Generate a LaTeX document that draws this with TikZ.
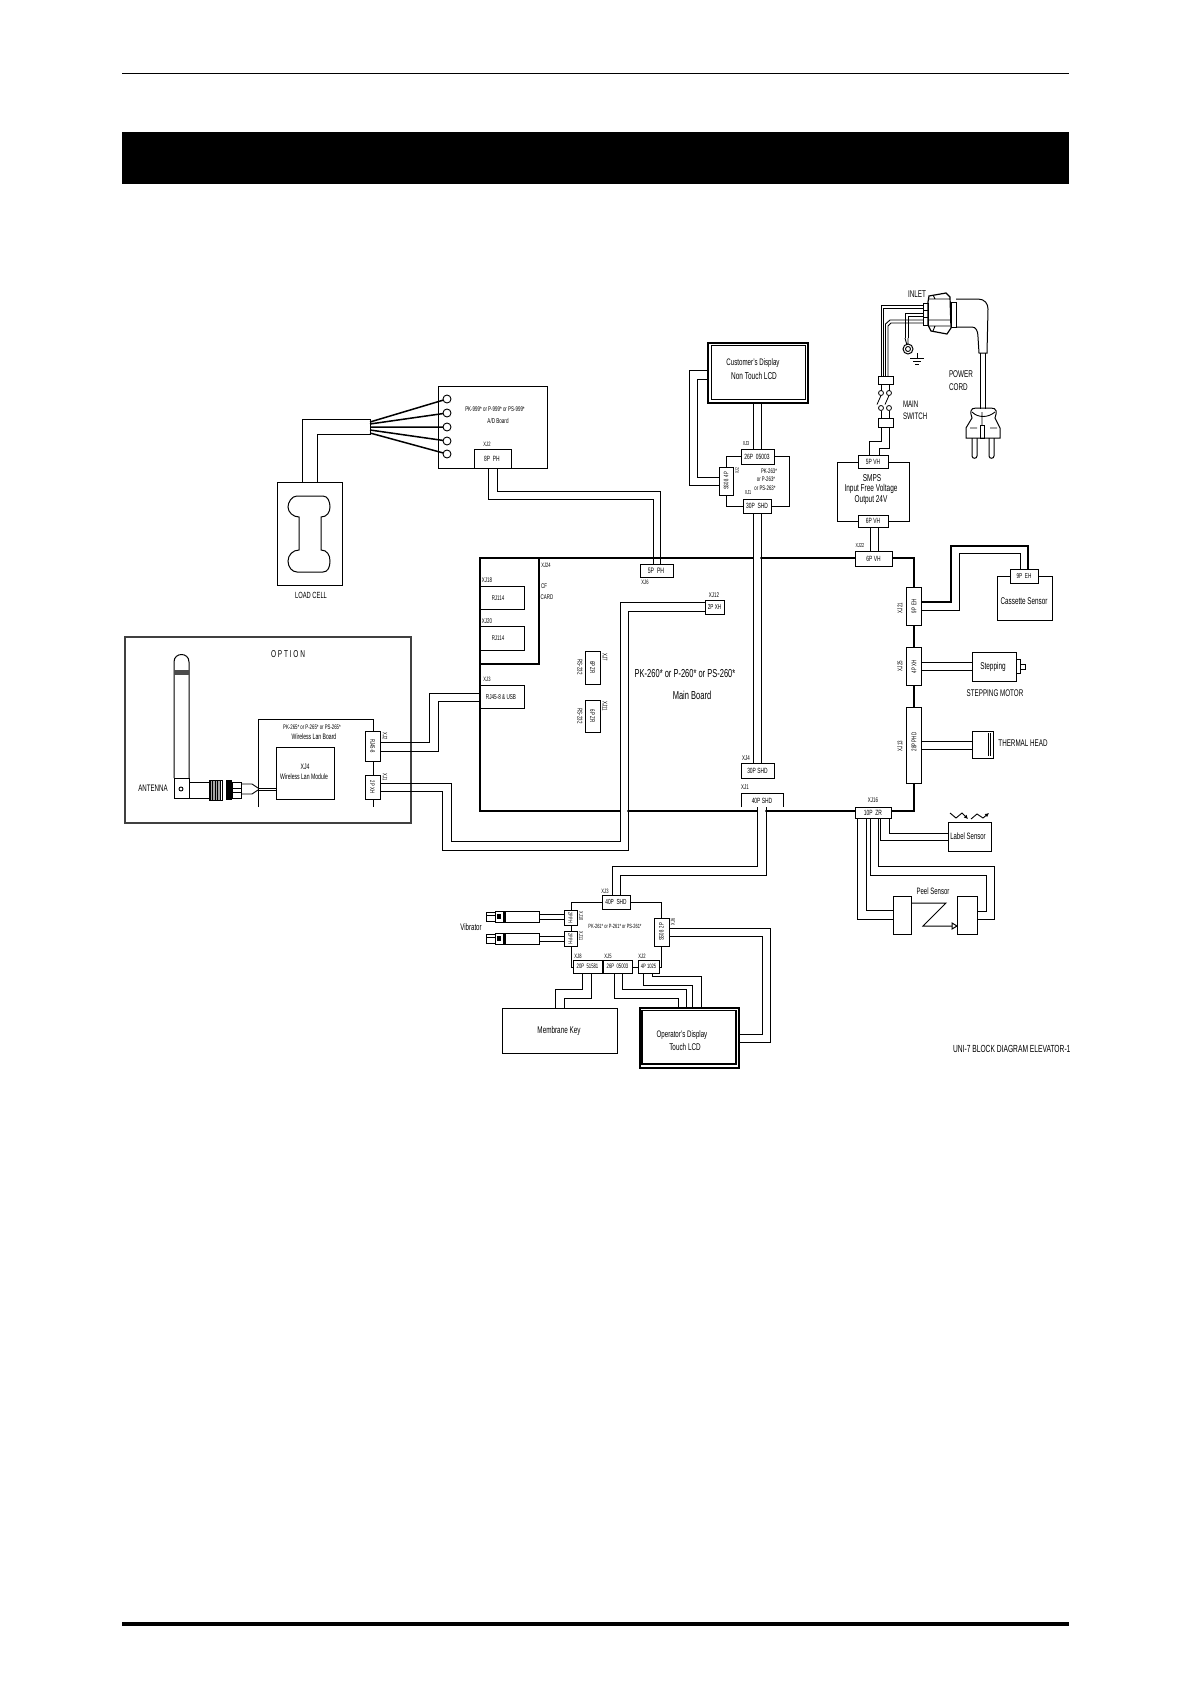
\documentclass[tikz,border=0pt]{standalone}
\usepackage{fontspec}
\usetikzlibrary{arrows.meta}
\setmainfont[FakeStretch=0.65]{Liberation Sans}
\newcounter{lc}
\newcommand\lb[5][]{\stepcounter{lc}\pgfmathsetmacro\fs{#4*1.05}\node[txt,#1,font=\fontsize{\fs}{\fs}\selectfont] (t\thelc) at (#2,#3) {#5};}
\newcommand\bx[6][]{\pgfmathsetmacro\bw{#5-#3}\pgfmathsetmacro\bh{#6-#4}\node[bxs,#1,minimum width=\bw pt,minimum height=\bh pt] (#2) at ({(#3+#5)/2},{(#4+#6)/2}) {};}
\tikzset{
  txt/.style={inner sep=0pt,outer sep=0pt,text=black},
  bxs/.style={draw=black,fill=white,line width=1pt,inner sep=0pt,outer sep=0pt,rectangle},
  wire/.style={draw=black,line width=1pt,line join=miter},
}
\begin{document}
\begin{tikzpicture}[x=1pt,y=-1pt]
\useasboundingbox (0,0) rectangle (1190,1684);
% page furniture
\draw[line width=1pt] (122,73.5) -- (1069,73.5);
\fill[black] (122,132) rectangle (1069,184);
\draw[line width=4pt] (122,1624) -- (1069,1624);

% LOAD CELL
\bx{cell}{277}{482}{342}{585}
\draw[wire] (297,496) -- (323,496) .. controls (328,496) and (330,502) .. (330,507) .. controls (330,512) and (327,517) .. (321,517) -- (321,550) .. controls (327,550) and (330,555) .. (330,561) .. controls (330,567) and (328,572) .. (323,572) -- (297,572) .. controls (292,572) and (288,567) .. (288,561) .. controls (288,555) and (293,550) .. (299,550) -- (299,517) .. controls (293,517) and (288,512) .. (288,507) .. controls (288,502) and (292,496) .. (297,496) -- cycle;
\lb{311}{595}{8.5}{LOAD CELL}
\draw[wire] (302,0 |- cell.north) -- (302,419) -- (370,419) -- (370,434) -- (317,434) -- (317,0 |- cell.north);
% A/D board
\bx{ad}{438}{386}{547}{468}
\foreach \n/\yy in {1/399,2/413,3/427,4/441,5/454}{\node[circle,draw=black,fill=white,line width=.9pt,minimum size=8pt,inner sep=0pt,outer sep=0pt] (c\n) at (447,\yy) {};}
\draw[line width=1.5pt,black] (370,422) -- (c1) (370,424) -- (c2) (370,427) -- (c3) (370,430) -- (c4) (370,433) -- (c5);
\lb{495}{409}{6.5}{PK-999* or P-999* or PS-999*}
\lb{498}{421}{6.7}{A/D Board}
\lb{487}{444}{6}{XJ2}
\bx{adc}{474}{449}{511}{468}
\lb{492}{459}{7.2}{8P\ \ PH}

% MAIN BOARD
\bx[fill=none,line width=1.2pt]{board}{480}{558}{914}{811}
\fill[white] (753.6,555) rectangle (760.4,561) (620.6,808) rectangle (627.4,814) (757.6,808) rectangle (765.4,814);
\draw[wire,line width=1.2pt] (539,558) -- (539,664) -- (480,664);
\lb{546}{565}{6}{XJ24}
\lb{544}{586}{6.5}{CF}
\lb{547}{597}{6.5}{CARD}
\lb{487}{580}{6.5}{XJ18}
\bx{rja}{480}{586}{524}{609}
\lb{498}{598}{6.5}{RJ114}
\lb{487}{621}{6.5}{XJ20}
\bx{rjb}{480}{626}{524}{650}
\lb{498}{638}{6.5}{RJ114}
\lb{487}{679}{6}{XJ3}
\bx{rj}{480}{685}{524}{708}
\lb{501}{697}{6.8}{RJ45-8 \& USB}
\bx{rsa}{585}{651}{600}{684}
\lb[rotate=-90]{592.5}{667.5}{6.5}{6P ZR}
\lb[rotate=-90]{580}{667}{6.5}{RS-232}
\lb[rotate=-90]{605}{657}{6.5}{XJ7}
\bx{rsb}{585}{700}{600}{732}
\lb[rotate=-90]{592.5}{716}{6.5}{6P ZR}
\lb[rotate=-90]{580}{716}{6.5}{RS-232}
\lb[rotate=-90]{605}{706}{6.5}{XJ11}
\lb{685}{674}{11}{PK-260* or P-260* or PS-260*}
\lb{692}{695}{11}{Main Board}

\bx{xjsix}{640}{564}{673}{577}
\lb{656}{571}{7.5}{5P\ \ PH}
\lb{645}{582}{6}{XJ6}
\bx{xjtw}{705}{600}{724}{614}
\lb{714.5}{607}{6.8}{2P XH}
\lb{714}{595}{6.5}{XJ12}
\bx{xjfour}{741}{763}{774}{778}
\lb{757.5}{771}{7.2}{30P SHD}
\lb{746}{758}{6.5}{XJ4}
\draw[wire] (741,807) -- (741,793) -- (783,793) -- (783,807);
\lb{762}{801}{7.2}{40P SHD}
\lb{745}{787}{6.5}{XJ1}

% chain on the right
\bx{xjtt}{855}{551}{892}{566}
\lb{873.5}{559}{7.2}{6P VH}
\lb{860}{546}{5.5}{XJ22}
\bx{xjto}{906}{587}{921}{625}
\lb[rotate=90]{914}{606}{6.5}{9P\ \ EH}
\lb[rotate=90]{900}{608}{6.5}{XJ21}
\bx{xjtf}{906}{647}{921}{685}
\lb[rotate=90]{914}{667}{6.5}{4P XH}
\lb[rotate=90]{900}{666}{6.5}{XJ25}
\bx{xjth}{906}{707}{921}{783}
\lb[rotate=90]{914}{742}{6.5}{28P PHD}
\lb[rotate=90]{900}{746}{6.5}{XJ13}
\bx{xjsx}{855}{807}{891}{818}
\lb{873}{812.5}{7.2}{10P\ \ ZR}
\lb{873}{800}{6.5}{XJ16}

% Customer's display
\bx[line width=1.4pt]{cust}{708}{343}{808}{403}
\draw[line width=1pt,black] (711,345.5) rectangle (805,399);
\lb{753}{363}{9}{Customer's Display}
\lb{754}{376}{9.5}{Non Touch LCD}
\bx{dbrd}{726}{456}{789}{506}
\bx{dtop}{741}{449}{774}{464}
\lb{757}{456.5}{7.2}{26P\ \ 05003}
\lb{746}{444}{5.5}{XJ3}
\bx{dss}{719}{467}{733}{495}
\lb[rotate=90]{726}{481}{6.2}{SS08\ \ 4P}
\lb[rotate=90]{737}{471}{5}{XJ2}
\bx{dbot}{743}{499}{771}{513}
\lb{757}{506}{7.2}{30P\ \ SHD}
\lb{748}{493}{5.5}{XJ1}
\lb{769}{471}{6.3}{PK-263*}
\lb{766}{479.5}{6.3}{or P-263*}
\lb{765}{488}{6.3}{or PS-263*}

% SMPS
\bx{smps}{837}{462}{909}{521}
\bx{smu}{858}{455}{888}{468}
\lb{873}{461.5}{7.2}{5P VH}
\bx{sml}{858}{515}{888}{527}
\lb{873}{521}{7.2}{6P VH}
\lb{872}{478}{9.5}{SMPS}
\lb{871}{489}{9.5}{Input Free Voltage}
\lb{871}{500}{9.5}{Output 24V}

% switch and cord
\bx{swu}{878}{376}{893}{384}
\bx{swl}{878}{418}{893}{427}
\foreach \n/\xx in {a/881,b/889}{
 \node[circle,draw=black,fill=white,line width=.8pt,minimum size=5pt,inner sep=0pt,outer sep=0pt] (up\n) at (\xx,393) {};
 \node[circle,draw=black,fill=white,line width=.8pt,minimum size=5pt,inner sep=0pt,outer sep=0pt] (lo\n) at (\xx,408) {};
 \draw[wire,line width=.9pt] (up\n) -- (\xx,0 |- swu.south) (lo\n) -- (\xx,0 |- swl.north);
 \draw[wire,line width=.8pt] (up\n.south) -- ++(-4,9);
}
\lb[anchor=west]{903}{404}{9}{MAIN}
\lb[anchor=west]{903}{416}{9}{SWITCH}
\lb{917}{294}{9.3}{INLET}
\lb[anchor=west]{949}{374}{9.3}{POWER}
\lb[anchor=west]{949}{387}{9.3}{CORD}
\begin{scope}[line width=.9pt,draw=black]
\draw (881,0 |- swu.north) -- (881,305) -- (923,305) (883.5,0 |- swu.north) -- (883.5,308) -- (923,308);
\draw (885.5,0 |- swu.north) -- (885.5,324) -- (890,320) -- (923,320) (888,0 |- swu.north) -- (888,326) -- (891,323) -- (923,323);
\draw (923,313) -- (905,313) -- (905,338) (923,316) -- (908,316) -- (908,338);
\node[circle,draw=black,line width=1pt,minimum size=10pt,inner sep=0pt,outer sep=0pt] (ring) at (908,349) {};
\draw (905,338) -- (ring) (908,338) -- (ring);
\draw[line width=.9pt] (908,349) circle (2.5pt);
\draw (917,353) -- (917,358) (910,358) -- (924,358) (913,361) -- (921,361) (915,364) -- (919,364);
\draw (923,303) rectangle (928,310) (923,310) rectangle (928,317) (923,317) rectangle (928,325);
\draw[line width=1.2pt] (928,302) -- (929,296) -- (946,293) -- (950,297) -- (951,328) -- (947,334) -- (931,331) -- (928,325) -- cycle;
\draw (929,299) -- (950,299) (929,320) -- (950,320) (929,326) -- (950,326) (933,295) -- (935,299) (933,331) -- (935,326);
\draw (951,302) rectangle (956,327);
\draw[line width=1pt] (956,299) -- (978,299) .. controls (985,299) and (988,304) .. (988,309) -- (987,353) -- (979,353) -- (978,337) .. controls (978,331) and (976,327) .. (972,327) -- (956,327);
\draw (980,353) -- (980,409) (985,353) -- (985,409);
\draw[line width=1pt] (972,418) .. controls (970,412) and (970,408) .. (976,408) -- (991,408) .. controls (997,408) and (997,412) .. (995,418) -- (1000,428) -- (1000,438) -- (966,438) -- (966,428) -- cycle;
\draw (972,412) .. controls (978,418) and (988,418) .. (995,412) (970,428) -- (977,428) (990,428) -- (997,428) (982,412) -- (982,425);
\draw (980,425) rectangle (984,438);
\draw[line width=1pt] (972,438) -- (972,456) .. controls (972,459) and (977,459) .. (977,456) -- (977,438);
\draw[line width=1pt] (989,438) -- (989,456) .. controls (989,459) and (994,459) .. (994,456) -- (994,438);
\end{scope}

% Cassette sensor
\bx{cass}{997}{576}{1052}{620}
\bx{cassc}{1010}{569}{1038}{583}
\lb{1024}{576}{6.8}{9P\ \ EH}
\lb{1024}{601}{9.3}{Cassette Sensor}
% Stepping motor
\bx{step}{972}{652}{1016}{681}
\draw[wire] (1016,659) -- (1020,659) -- (1020,673) -- (1016,673) (1020,664) -- (1025,664) -- (1025,669) -- (1020,669);
\lb{993}{667}{9.4}{Stepping}
\lb{995}{693}{9.2}{STEPPING MOTOR}
% Thermal head
\bx{head}{972}{731}{993}{758}
\draw[wire] (988,733) -- (988,756) (990.5,733) -- (990.5,756);
\lb{1023}{743}{9.2}{THERMAL HEAD}
% Label sensor
\bx{lab}{948}{822}{991}{851}
\lb{968}{836}{8.8}{Label Sensor}
\draw[wire,line width=.9pt,-{Latex[length=4pt,width=4pt]}] (950,813) -- (956,818) -- (962,813) -- (968,819);
\draw[wire,line width=.9pt,-{Latex[length=4pt,width=4pt]}] (971,819) -- (977,814) -- (983,818) -- (989,813);
% Peel sensor
\bx{pla}{893}{896}{911}{934}
\bx{plb}{957}{896}{977}{934}
\lb{933}{891}{8.8}{Peel Sensor}
\draw[wire] (911,903) -- (946,903) -- (923,926) -- (952,926);
\draw[wire] (952,923) -- (957,926) -- (952,929) -- cycle;

% Wireless LAN / option
\draw[line width=1.2pt,black!75] (125,637) rectangle (411,823);
\lb{288}{654}{9.5}{O P T I O N}
\draw[wire] (258,807) -- (258,719) -- (373,719) -- (373,807);
\bx{wl}{276}{747}{334}{799}
\lb{312}{727}{6.3}{PK-265* or P-265* or PS-265*}
\lb{314}{737}{7.5}{Wireless Lan Board}
\lb{305}{767}{7.5}{XJ4}
\lb{304}{777}{7.5}{Wireless Lan Module}
\bx{wra}{365}{731}{380}{761}
\lb[rotate=-90]{372.5}{746}{6.2}{RJ45-8}
\lb[rotate=-90]{385}{736}{6}{XJ2}
\bx{wrb}{365}{775}{380}{799}
\lb[rotate=-90]{372.5}{787}{6.2}{2P XH}
\lb[rotate=-90]{385}{777}{6}{XJ1}
% antenna
\begin{scope}[line width=.9pt]
\draw[black,line width=1pt] (174,778) -- (174,662) .. controls (174,652) and (189,652) .. (189,662) -- (189,778);
\fill[black!70] (174,670) rectangle (189,675);
\draw[black,line width=1pt] (174,778) rectangle (189,798);
\draw[black] (181,789) circle (2pt);
\draw[black] (189,782) rectangle (209,798);
\fill[black!35] (209,780) rectangle (221,800);
\foreach \xx in {210,212.5,215,217.5,220}{\draw[black,line width=.9pt] (\xx,780) -- (\xx,800);}
\draw[black] (209,780) rectangle (222,800);
\fill[black] (226,780) rectangle (232,800);
\draw[black] (232,782) rectangle (241,798);
\draw[black] (232,788) -- (241,788) (232,792) -- (241,792);
\draw[black] (241,784) -- (252,784) -- (258,788) (241,794) -- (252,794) -- (258,790);
\draw[black,line width=.8pt] (258,788) -- (wl.west |- 0,788);
\draw[black,line width=.8pt] (258,790.5) -- (wl.west |- 0,790.5);
\end{scope}
\lb{153}{788}{9}{ANTENNA}

% lower board
\bx{lbrd}{571}{902}{661}{967}
\bx{ltop}{602}{895}{630}{909}
\lb{616}{902}{7}{40P\ \ SHD}
\lb{605}{891}{6}{XJ3}
\bx{lva}{564}{910}{577}{925}
\lb[rotate=-90]{570.5}{917.5}{5.5}{2P PH}
\lb[rotate=-90]{581}{916}{5.5}{XJ10}
\bx{lvb}{564}{931}{577}{946}
\lb[rotate=-90]{570.5}{938.5}{5.5}{2P PH}
\lb[rotate=-90]{581}{936}{5.5}{XJ11}
\bx{lss}{654}{918}{669}{946}
\lb[rotate=90]{661.5}{932}{6.2}{SS08\ \ 2P}
\lb[rotate=90]{673}{922}{5.5}{XJ6}
\bx{lka}{573}{960}{602}{973}
\lb{587.5}{966.5}{6.2}{20P\ \ 51581}
\lb{578}{956}{6}{XJ8}
\bx{lkb}{603}{960}{632}{973}
\lb{617.5}{966.5}{6.2}{26P\ \ 05003}
\lb{608}{956}{6}{XJ5}
\bx{lkc}{638}{960}{659}{973}
\lb{648.5}{966.5}{6}{4P 1025}
\lb{642}{956}{6}{XJ2}
\lb{615}{926}{5.8}{PK-261* or P-261* or PS-261*}
\bx{memb}{502}{1008}{617}{1053}
\lb{559}{1031}{9.3}{Membrane Key}
\bx[line width=1.2pt]{oper}{640}{1008}{739}{1068}
\draw[line width=1.2pt,black] (642,1010.5) rectangle (736,1064);
\lb{682}{1035}{9}{Operator's Display}
\lb{685}{1047}{9.3}{Touch LCD}
% vibrators
\foreach \yy in {911,933}{
 \draw[black,line width=.9pt] (486,\yy+1) rectangle (495,\yy+10) (486,\yy+4) -- (495,\yy+4);
 \draw[black,line width=.9pt] (495,\yy) rectangle (503,\yy+11);
 \fill[black] (497,\yy+3) rectangle (501,\yy+8);
 \draw[black,line width=1.4pt] (505,\yy) -- (505,\yy+11);
 \draw[black,line width=.9pt] (503,\yy) rectangle (539,\yy+11);
}
\lb{471}{927}{9}{Vibrator}
\draw[wire,line width=.9pt] (539,914) -- (564,914) (539,919) -- (564,919) (539,936) -- (564,936) (539,941) -- (564,941);

% CONNECTING WIRES
\draw[wire] (497,0 |- adc.south) -- (497,491) -- (660,491) -- (660,0 |- xjsix.north);
\draw[wire] (488,0 |- adc.south) -- (488,499) -- (653,499) -- (653,0 |- xjsix.north);
\draw[wire] (wra.east |- 0,742) -- (429,742) -- (429,693) -- (rj.west |- 0,693);
\draw[wire] (wra.east |- 0,751) -- (438,751) -- (438,701) -- (rj.west |- 0,701);
\draw[wire] (wrb.east |- 0,783) -- (451,783) -- (451,841) -- (620,841) -- (620,602) -- (xjtw.west |- 0,602);
\draw[wire] (wrb.east |- 0,791) -- (442,791) -- (442,850) -- (628,850) -- (628,611) -- (xjtw.west |- 0,611);
\draw[wire] (753,0 |- dbot.south) -- (753,0 |- xjfour.north) (761,0 |- dbot.south) -- (761,0 |- xjfour.north);
\draw[wire] (753,0 |- cust.south) -- (753,0 |- dtop.north) (761,0 |- cust.south) -- (761,0 |- dtop.north);
\draw[wire] (cust.west |- 0,370) -- (689,370) -- (689,485) -- (dss.west |- 0,485);
\draw[wire] (cust.west |- 0,379) -- (697,379) -- (697,477) -- (dss.west |- 0,477);
\draw[wire] (870,0 |- sml.south) -- (870,0 |- xjtt.north) (878,0 |- sml.south) -- (878,0 |- xjtt.north);
\draw[wire] (869,0 |- smu.north) -- (869,441) -- (881,441) -- (881,0 |- swl.south);
\draw[wire] (879,0 |- smu.north) -- (879,448) -- (889,448) -- (889,0 |- swl.south);
\draw[wire,line width=1.6pt] (xjto.east |- 0,602) -- (951,602) -- (951,546) -- (1028,546) -- (1028,0 |- cassc.north);
\draw[wire] (xjto.east |- 0,610) -- (959,610) -- (959,553) -- (1020,553) -- (1020,0 |- cassc.north);
\draw[wire] (xjtf.east |- 0,662) -- (step.west |- 0,662) (xjtf.east |- 0,670) -- (step.west |- 0,670);
\draw[wire] (xjth.east |- 0,741) -- (head.west |- 0,741) (xjth.east |- 0,749) -- (head.west |- 0,749);
\draw[wire] (889,0 |- xjsx.south) -- (889,833) -- (lab.west |- 0,833);
\draw[wire] (880,0 |- xjsx.south) -- (880,840) -- (lab.west |- 0,840);
\draw[wire] (878,0 |- xjsx.south) -- (878,866) -- (994,866) -- (994,919) -- (plb.east |- 0,919);
\draw[wire] (870,0 |- xjsx.south) -- (870,875) -- (986,875) -- (986,911) -- (plb.east |- 0,911);
\draw[wire] (866,0 |- xjsx.south) -- (866,910) -- (pla.west |- 0,910);
\draw[wire] (857,0 |- xjsx.south) -- (857,919) -- (pla.west |- 0,919);
\draw[wire] (757,807) -- (757,866) -- (612,866) -- (612,0 |- ltop.north);
\draw[wire] (766,807) -- (766,875) -- (620,875) -- (620,0 |- ltop.north);
\draw[wire] (582,0 |- lka.south) -- (582,989) -- (555,989) -- (555,0 |- memb.north);
\draw[wire] (591,0 |- lka.south) -- (591,998) -- (564,998) -- (564,0 |- memb.north);
\draw[wire] (614,0 |- lkb.south) -- (614,998) -- (678,998) -- (678,0 |- oper.north);
\draw[wire] (622,0 |- lkb.south) -- (622,989) -- (686,989) -- (686,0 |- oper.north);
\draw[wire] (643,0 |- lkc.south) -- (643,985) -- (692,985) -- (692,0 |- oper.north);
\draw[wire] (652,0 |- lkc.south) -- (652,976) -- (701,976) -- (701,0 |- oper.north);
\draw[wire] (lss.east |- 0,928) -- (770,928) -- (770,1042) -- (oper.east |- 0,1042);
\draw[wire] (lss.east |- 0,936) -- (762,936) -- (762,1034) -- (oper.east |- 0,1034);
\lb[anchor=west]{953}{1049}{9.8}{UNI-7 BLOCK DIAGRAM ELEVATOR-1}
\end{tikzpicture}
\end{document}
